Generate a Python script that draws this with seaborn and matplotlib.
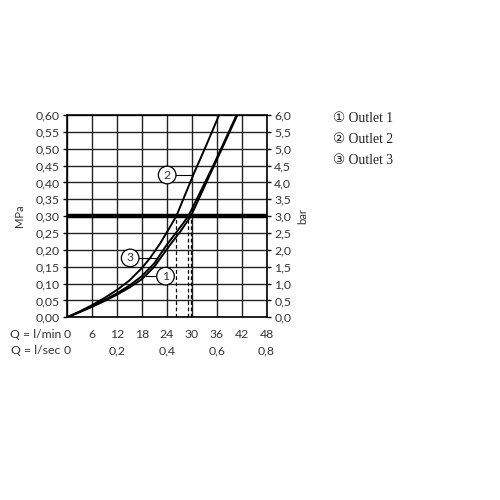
import numpy as np
import pandas as pd
import matplotlib
matplotlib.use("Agg")
import matplotlib.pyplot as plt
import seaborn as sns

# flow (l/min) vs pressure (MPa)
q_out2 = [0, 3, 6, 9, 12, 15, 18, 20, 22.4, 24.5, 26.3, 30.3, 33.5, 36.6]
p_out2 = [0, 0.017, 0.036, 0.057, 0.081, 0.109, 0.146, 0.176, 0.219, 0.262, 0.30, 0.42, 0.51, 0.60]
q_out3 = [0, 3, 6, 9, 12, 15, 18, 21, 24, 26.5, 29.2, 35.2, 40.8]
p_out3 = [0, 0.016, 0.033, 0.051, 0.071, 0.094, 0.122, 0.16, 0.215, 0.255, 0.30, 0.45, 0.60]
q_out1 = [0, 3, 6, 9, 12, 15, 18, 21, 24.8, 27.3, 29.8, 35.4, 41]
p_out1 = [0, 0.015, 0.031, 0.048, 0.067, 0.088, 0.113, 0.15, 0.215, 0.255, 0.30, 0.45, 0.60]

flow_at_3bar = [26.3, 29.2, 29.8]
ref_pressure = 0.30

lmin_ticks = [0, 6, 12, 18, 24, 30, 36, 42, 48]
lsec_pos = [0, 12, 24, 36, 48]
lsec_labels = ["0", "0,2", "0,4", "0,6", "0,8"]
mpa_ticks = [0.0, 0.05, 0.10, 0.15, 0.20, 0.25, 0.30, 0.35, 0.40, 0.45, 0.50, 0.55, 0.60]
bar_ticks = [0.0, 0.5, 1.0, 1.5, 2.0, 2.5, 3.0, 3.5, 4.0, 4.5, 5.0, 5.5, 6.0]
legend_items = ["\u2460 Outlet 1", "\u2461 Outlet 2", "\u2462 Outlet 3"]

df = pd.concat([
    pd.DataFrame({"Q": q_out1, "P": p_out1, "Outlet": "1"}),
    pd.DataFrame({"Q": q_out2, "P": p_out2, "Outlet": "2"}),
    pd.DataFrame({"Q": q_out3, "P": p_out3, "Outlet": "3"}),
])

sns.set_style("white")
plt.rcParams["font.family"] = ["Lato", "DejaVu Sans"]
txt = "#333333"
fs = 8.8

fig = plt.figure(figsize=(5, 5), dpi=100)
ax = fig.add_axes([0.134, 0.3654, 0.399, 0.4046])

for v in lmin_ticks:
    ax.axvline(v, color="#222222", lw=1.0, zorder=1)
for v in mpa_ticks:
    ax.axhline(v, color="#222222", lw=1.0, zorder=1)

sns.lineplot(data=df, x="Q", y="P", units="Outlet", estimator=None, sort=False,
             color="black", lw=1.4, ax=ax, zorder=4)

ax.axhline(ref_pressure, color="black", lw=3.2, zorder=5)
for q in flow_at_3bar:
    ax.plot([q, q], [0, ref_pressure], color="black", lw=0.9, ls=(0, (3, 2)), zorder=3)

ax.set_xlim(0, 48)
ax.set_ylim(0, 0.6)
ax.set_xticks(lmin_ticks)
ax.set_xticklabels([])
ax.set_yticks(mpa_ticks)
ax.set_yticklabels([f"{v:.2f}".replace(".", ",") for v in mpa_ticks], fontsize=fs, color=txt)
ax.tick_params(axis="y", length=3, width=1, color="black", pad=2)
ax.tick_params(axis="x", length=0)
for s in ax.spines.values():
    s.set_color("black")
    s.set_linewidth(1.2)
ax.set_xlabel("")
ax.set_ylabel("MPa", fontsize=8, color=txt)
ax.yaxis.set_label_coords(-0.21, 0.5)

ax2 = ax.twinx()
ax2.set_ylim(0, 6)
ax2.set_yticks(bar_ticks)
ax2.set_yticklabels([f"{v:.1f}".replace(".", ",") for v in bar_ticks], fontsize=fs, color=txt)
ax2.tick_params(axis="y", length=3, width=1, color="black", pad=2.5)
ax2.set_ylabel("bar", fontsize=8, color=txt)
ax2.yaxis.set_label_coords(1.155, 0.5)
for s in ax2.spines.values():
    s.set_visible(False)

# axis rows below
trans = ax.get_xaxis_transform()
for v in lmin_ticks:
    ax.text(v, -0.085, str(v), transform=trans, ha="center", va="center", fontsize=fs, color=txt)
for v, lab in zip(lsec_pos, lsec_labels):
    ax.text(v, -0.165, lab, transform=trans, ha="center", va="center", fontsize=fs, color=txt)
ax.text(-1.5, -0.085, "Q = l/min", transform=trans, ha="right", va="center", fontsize=fs, color=txt)
ax.text(-1.7, -0.165, "Q = l/sec", transform=trans, ha="right", va="center", fontsize=fs, color=txt)

# circled callouts
callouts = [("2", 24.1, 0.422, 30.3), ("3", 15.2, 0.176, 21.5), ("1", 23.7, 0.122, 19.0)]
for lab, cx, cy, ex in callouts:
    ax.plot([cx, ex], [cy, cy], color="black", lw=0.8, zorder=6)
    ax.text(cx, cy, lab, ha="center", va="center", fontsize=fs, color=txt, zorder=7,
            bbox=dict(boxstyle="circle,pad=0.27", fc="white", ec="black", lw=0.9))

for i, item in enumerate(legend_items):
    fig.text(0.666, 0.762 - i * 0.041, item, fontsize=9.8, color="#222222",
             family=["Liberation Serif", "DejaVu Sans"], va="center", ha="left")

fig.savefig("out.png", dpi=100)
